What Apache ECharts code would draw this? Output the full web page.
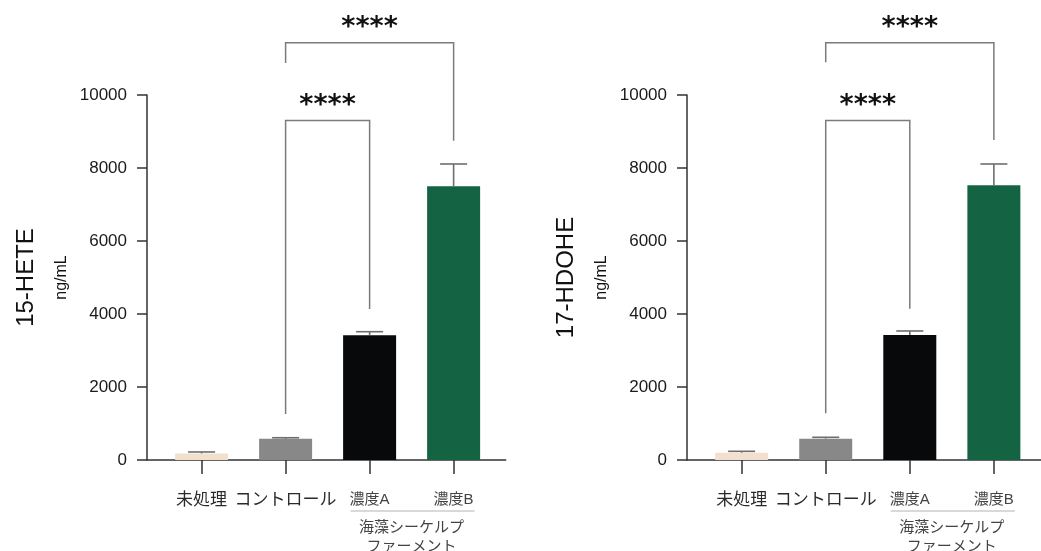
<!DOCTYPE html>
<html>
<head>
<meta charset="utf-8">
<script src="https://cdn.jsdelivr.net/npm/echarts@6/dist/echarts.min.js"></script>
<style>
  html, body { margin: 0; padding: 0; background: #ffffff; }
  #chart { width: 1041px; height: 551px; }
</style>
</head>
<body>
<div id="chart"></div>
<script>
// Groups on the x axis (index 0..3)
const categories = ['未処理', 'コントロール', '濃度A', '濃度B'];
const groupLabel = '海藻シーケルプ\nファーメント';
const groupSpan = [2, 3];

// 15-HETE (ng/mL): mean and upper error
const hete15Mean = [180, 580, 3420, 7500];
const hete15Err = [40, 30, 95, 610];

// 17-HDOHE (ng/mL): mean and upper error
const hdohe17Mean = [200, 585, 3425, 7525];
const hdohe17Err = [38, 37, 110, 585];

// Significance brackets: [from, to, top, left leg end, right leg end]
const hete15Brackets = [
  [1, 2, 9300, 1260, 4140],
  [1, 3, 11430, 10880, 8750]
];
const hdohe17Brackets = [
  [1, 2, 9300, 1280, 4145],
  [1, 3, 11430, 10895, 8765]
];
const bracketLabels = ['****', '****'];

const yTickMin = 0, yTickMax = 10000, yTickStep = 2000;

const barColors = ['#f2dfcd', '#888888', '#08090b', '#146443'];
const FONT = '"Liberation Sans", "Noto Sans CJK JP", sans-serif';
const AXIS_COLOR = '#333333';
const LINE_GRAY = '#7b7b7b';

const chart = echarts.init(document.getElementById('chart'), null, { renderer: 'canvas' });

function xAxisFor(gridIndex) {
  return {
    type: 'value', gridIndex: gridIndex,
    min: -0.65, max: 3.62,
    axisLine: { show: true, onZero: false, lineStyle: { color: AXIS_COLOR, width: 1.5 } },
    axisTick: { show: true, length: 14, customValues: [0, 1, 2, 3],
                lineStyle: { color: AXIS_COLOR, width: 1.5 } },
    axisLabel: {
      customValues: [0, 1, 2, 3],
      margin: 30,
      fontFamily: FONT,
      formatter: function (v) {
        const i = Math.round(v);
        return i >= groupSpan[0] ? '{s|' + categories[i] + '}' : '{m|' + categories[i] + '}';
      },
      rich: {
        m: { fontSize: 17, color: '#2a2a2a', fontFamily: FONT, lineHeight: 20 },
        s: { fontSize: 15, color: '#444444', fontFamily: FONT, lineHeight: 20 }
      }
    },
    splitLine: { show: false }
  };
}

function yAxisFor(gridIndex, title) {
  return {
    type: 'value', gridIndex: gridIndex,
    min: yTickMin, max: yTickMax, interval: yTickStep,
    name: '{t|' + title + '}\n{u|ng/mL}',
    nameLocation: 'middle', nameRotate: 90, nameGap: 72,
    nameTextStyle: {
      rich: {
        t: { fontSize: 24, color: '#111111', fontFamily: FONT, lineHeight: 46 },
        u: { fontSize: 16, color: '#111111', fontFamily: FONT, lineHeight: 26 }
      }
    },
    axisLine: { show: true, onZero: false, lineStyle: { color: AXIS_COLOR, width: 1.5 } },
    axisTick: { show: true, length: 10, lineStyle: { color: AXIS_COLOR, width: 1.5 } },
    axisLabel: { margin: 20, fontSize: 17, color: '#1a1a1a', fontFamily: FONT,
                 formatter: function (v) { return String(v); } },
    splitLine: { show: false }
  };
}

function barSeries(idx, means) {
  return {
    type: 'bar', xAxisIndex: idx, yAxisIndex: idx,
    barWidth: 53,
    data: means.map((v, i) => ({ value: [i, v], itemStyle: { color: barColors[i] } })),
    z: 2
  };
}

function errorSeries(idx, means, errs) {
  return {
    type: 'custom', xAxisIndex: idx, yAxisIndex: idx, clip: false, z: 3,
    data: means.map((m, i) => [i, m, errs[i]]),
    renderItem: function (params, api) {
      const x = api.value(0), m = api.value(1), e = api.value(2);
      const base = api.coord([x, m]);
      const top = api.coord([x, m + e]);
      const hw = 13.5;
      const style = { stroke: '#6e6e6e', lineWidth: 1.6 };
      return {
        type: 'group',
        children: [
          { type: 'line', shape: { x1: base[0], y1: base[1], x2: top[0], y2: top[1] }, style: style },
          { type: 'line', shape: { x1: top[0] - hw, y1: top[1], x2: top[0] + hw, y2: top[1] }, style: style }
        ]
      };
    }
  };
}

function bracketSeries(idx, brackets) {
  return {
    type: 'custom', xAxisIndex: idx, yAxisIndex: idx, clip: false, z: 4,
    data: brackets,
    renderItem: function (params, api) {
      const from = api.value(0), to = api.value(1), top = api.value(2);
      const p1 = api.coord([from, api.value(3)]);
      const p2 = api.coord([from, top]);
      const p3 = api.coord([to, top]);
      const p4 = api.coord([to, api.value(4)]);
      return {
        type: 'group',
        children: [
          { type: 'polyline', shape: { points: [p1, p2, p3, p4] },
            style: { stroke: LINE_GRAY, lineWidth: 1.5, fill: null } },
          { type: 'text',
            style: { x: (p2[0] + p3[0]) / 2, y: p2[1] - 15, text: bracketLabels[params.dataIndex],
                     fill: '#111111', font: 'bold 27px "DejaVu Sans"', align: 'center', verticalAlign: 'middle' } }
        ]
      };
    }
  };
}

function groupSeries(idx) {
  return {
    type: 'custom', xAxisIndex: idx, yAxisIndex: idx, clip: false, z: 4,
    data: [groupSpan],
    renderItem: function (params, api) {
      const a = api.value(0), b = api.value(1);
      const left = api.coord([a - 0.226, 0]);
      const right = api.coord([b + 0.25, 0]);
      const y = left[1] + 51;
      const cx = (api.coord([a, 0])[0] + api.coord([b, 0])[0]) / 2;
      return {
        type: 'group',
        children: [
          { type: 'line', shape: { x1: left[0], y1: y, x2: right[0], y2: y },
            style: { stroke: '#cccccc', lineWidth: 1.5 } },
          { type: 'text',
            style: { x: cx, y: y + 6, text: groupLabel, fill: '#444444',
                     font: '15px "Noto Sans CJK JP"', lineHeight: 19, align: 'center', verticalAlign: 'top' } }
        ]
      };
    }
  };
}

chart.setOption({
  animation: false,
  backgroundColor: '#ffffff',
  grid: [
    { left: 147, top: 95, width: 358.7, height: 365, outerBoundsMode: 'none', containLabel: false },
    { left: 687, top: 95, width: 359, height: 365, outerBoundsMode: 'none', containLabel: false }
  ],
  xAxis: [xAxisFor(0), xAxisFor(1)],
  yAxis: [yAxisFor(0, '15-HETE'), yAxisFor(1, '17-HDOHE')],
  series: [
    barSeries(0, hete15Mean),
    errorSeries(0, hete15Mean, hete15Err),
    bracketSeries(0, hete15Brackets),
    groupSeries(0),
    barSeries(1, hdohe17Mean),
    errorSeries(1, hdohe17Mean, hdohe17Err),
    bracketSeries(1, hdohe17Brackets),
    groupSeries(1)
  ]
});
</script>
</body>
</html>
